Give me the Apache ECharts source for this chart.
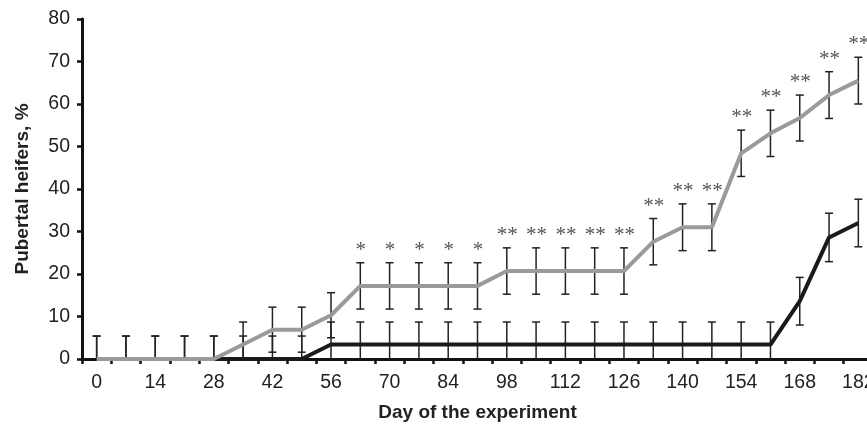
<!DOCTYPE html>
<html>
<head>
<meta charset="utf-8">
<script src="https://cdn.jsdelivr.net/npm/echarts@6/dist/echarts.min.js"></script>
<style>html,body{margin:0;padding:0;background:#fff}#c{width:867px;height:424px}</style>
</head>
<body>
<div id="c"></div>
<script>
var days = [0,7,14,21,28,35,42,49,56,63,70,77,84,91,98,105,112,119,126,133,140,147,154,161,168,175,182];
var tickLabels = days.map(String);
var grayVals = [0,0,0,0,0,3.4,6.9,6.9,10.3,17.2,17.2,17.2,17.2,17.2,20.7,20.7,20.7,20.7,20.7,27.6,31.0,31.0,48.4,53.1,56.7,62.1,65.5];
var grayErr  = [5.4,5.4,5.4,5.4,5.4,5.3,5.3,5.3,5.3,5.45,5.45,5.45,5.45,5.45,5.45,5.45,5.45,5.45,5.45,5.45,5.5,5.5,5.45,5.45,5.4,5.5,5.5];
var blackVals = [0,0,0,0,0,0,0,0,3.4,3.4,3.4,3.4,3.4,3.4,3.4,3.4,3.4,3.4,3.4,3.4,3.4,3.4,3.4,3.4,13.6,28.6,32.0];
var blackErr  = [5.4,5.4,5.4,5.4,5.4,5.4,5.4,5.4,5.3,5.3,5.3,5.3,5.3,5.3,5.3,5.3,5.3,5.3,5.3,5.3,5.3,5.3,5.3,5.3,5.6,5.7,5.6];
var sigMarks = ['','','','','','','','','','*','*','*','*','*','**','**','**','**','**','**','**','**','**','**','**','**','**'];

function errData(vals, errs) {
  return vals.map(function (v, i) { return [i, v, errs[i]]; });
}

function makeErrRender(withSig) {
  return function (params, api) {
    var i = api.value(0), v = api.value(1), e = api.value(2);
    var hi = v + e, lo = Math.max(0, v - e);
    var pHi = api.coord([i, hi]);
    var pLo = api.coord([i, lo]);
    var cw = 4;
    var style = { stroke: '#222', lineWidth: 1.5 };
    var children = [
      { type: 'line', shape: { x1: pHi[0], y1: pHi[1], x2: pLo[0], y2: pLo[1] }, style: style },
      { type: 'line', shape: { x1: pHi[0] - cw, y1: pHi[1], x2: pHi[0] + cw, y2: pHi[1] }, style: style }
    ];
    if (v - e > 0) {
      children.push({ type: 'line', shape: { x1: pLo[0] - cw, y1: pLo[1], x2: pLo[0] + cw, y2: pLo[1] }, style: style });
    }
    if (withSig) {
      var s = sigMarks[params.dataIndex];
      if (s) {
        children.push({
          type: 'text',
          style: {
            x: pHi[0] + 0.5, y: pHi[1] - 2, text: s,
            fill: '#555', font: '21px "Liberation Serif"',
            align: 'center', verticalAlign: 'bottom'
          }
        });
      }
    }
    return { type: 'group', children: children };
  };
}

var chart = echarts.init(document.getElementById('c'), null, { renderer: 'canvas' });
chart.setOption({
  animation: false,
  backgroundColor: '#fff',
  grid: { left: 82, top: 19, width: 791, height: 340, outerBoundsMode: 'none', containLabel: false },
  xAxis: {
    type: 'category',
    data: tickLabels,
    boundaryGap: true,
    name: 'Day of the experiment',
    nameLocation: 'middle',
    nameGap: 44,
    nameTextStyle: { fontFamily: 'Liberation Sans', fontWeight: 'bold', fontSize: 19, color: '#222' },
    axisLine: { lineStyle: { color: '#111', width: 3 } },
    axisTick: { show: true, interval: 0, length: 5, lineStyle: { color: '#111', width: 2.5 } },
    axisLabel: { interval: 1, margin: 14, hideOverlap: false, fontFamily: 'Liberation Sans', fontSize: 19.5, color: '#222' },
    splitLine: { show: false }
  },
  yAxis: {
    type: 'value',
    min: 0, max: 80, interval: 10,
    name: 'Pubertal heifers, %',
    nameLocation: 'middle',
    nameGap: 50,
    nameTextStyle: { fontFamily: 'Liberation Sans', fontWeight: 'bold', fontSize: 19, color: '#222' },
    axisLine: { show: true, lineStyle: { color: '#111', width: 3 } },
    axisTick: { show: true, length: 5, lineStyle: { color: '#111', width: 2.5 } },
    axisLabel: { margin: 12, fontFamily: 'Liberation Sans', fontSize: 19.5, color: '#222' },
    splitLine: { show: false }
  },
  series: [
    {
      type: 'custom', name: 'blackErr', z: 1,
      renderItem: makeErrRender(false),
      data: errData(blackVals, blackErr),
      encode: { x: 0, y: 1 }
    },
    {
      type: 'custom', name: 'grayErr', z: 1,
      renderItem: makeErrRender(true),
      data: errData(grayVals, grayErr),
      encode: { x: 0, y: 1 }
    },
    {
      type: 'line', name: 'Control', z: 3, clip: false,
      data: blackVals, symbol: 'none',
      lineStyle: { color: '#1a1a1a', width: 4 }
    },
    {
      type: 'line', name: 'Treated', z: 4, clip: false,
      data: grayVals, symbol: 'none',
      lineStyle: { color: '#9a9a9a', width: 4 }
    }
  ]
});
</script>
</body>
</html>
